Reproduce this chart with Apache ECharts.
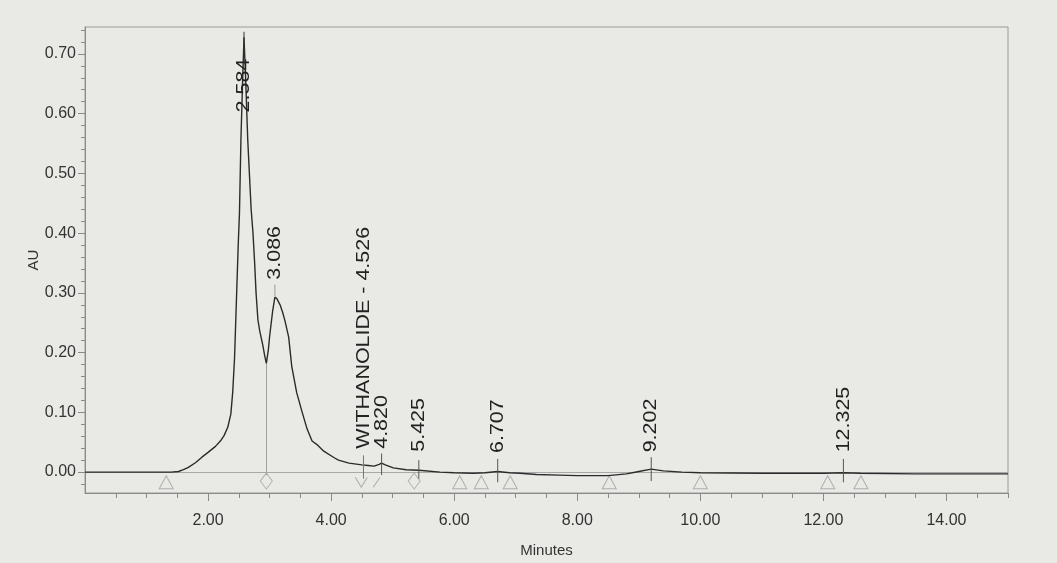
<!DOCTYPE html>
<html><head><meta charset="utf-8">
<script src="https://cdn.jsdelivr.net/npm/echarts@6/dist/echarts.min.js"></script>
<style>html,body{margin:0;padding:0;background:#e9e9e6;}#c{width:1057px;height:563px;}</style>
</head><body><div id="c"></div>
<script>
// ---- data ----
const times = [0.00,0.50,1.00,1.40,1.52,1.60,1.68,1.80,1.90,2.00,2.12,2.20,2.26,2.32,2.37,2.40,2.43,2.45,2.49,2.51,2.534,2.56,2.584,2.61,2.645,2.70,2.73,2.755,2.78,2.81,2.84,2.89,2.92,2.947,2.98,3.00,3.05,3.086,3.12,3.17,3.21,3.25,3.31,3.36,3.44,3.53,3.61,3.69,3.77,3.80,3.88,4.05,4.12,4.29,4.50,4.60,4.70,4.78,4.82,4.88,5.01,5.22,5.425,5.77,6.00,6.31,6.50,6.707,6.90,7.07,7.34,7.70,8.00,8.50,8.80,9.00,9.202,9.40,9.70,10.00,11.00,12.00,12.325,12.60,13.50,15.00];
const absorbance = [0.000,0.000,0.000,0.000,0.001,0.004,0.008,0.016,0.025,0.033,0.043,0.052,0.061,0.075,0.097,0.133,0.190,0.253,0.380,0.433,0.556,0.650,0.728,0.660,0.556,0.440,0.400,0.354,0.300,0.255,0.236,0.212,0.195,0.182,0.205,0.227,0.270,0.293,0.290,0.280,0.268,0.253,0.226,0.177,0.133,0.100,0.072,0.052,0.046,0.044,0.035,0.024,0.020,0.015,0.012,0.011,0.010,0.013,0.015,0.012,0.007,0.004,0.003,0.000,-0.001,-0.002,-0.001,0.001,-0.001,-0.002,-0.004,-0.005,-0.006,-0.006,-0.003,0.001,0.005,0.002,0.000,-0.001,-0.002,-0.002,-0.001,-0.002,-0.003,-0.003];

const xTickLabels = [2, 4, 6, 8, 10, 12, 14];
const xMinorTicks = [0.5, 1, 1.5, 2.5, 3, 3.5, 4.5, 5, 5.5, 6.5, 7, 7.5, 8.5, 9, 9.5, 10.5, 11, 11.5, 12.5, 13, 13.5, 14.5, 15];
const yTickLabels = [0, 0.1, 0.2, 0.3, 0.4, 0.5, 0.6, 0.7];
const yMinorTicks = [-0.02, 0.02, 0.04, 0.06, 0.08, 0.12, 0.14, 0.16, 0.18, 0.22, 0.24, 0.26, 0.28, 0.32, 0.34, 0.36, 0.38, 0.42, 0.44, 0.46, 0.48, 0.52, 0.54, 0.56, 0.58, 0.62, 0.64, 0.66, 0.68, 0.72, 0.74];

const peakTimes = [2.584, 3.086, 4.526, 4.820, 5.425, 6.707, 9.202, 12.325];
const peakNames = ['2.584', '3.086', 'WITHANOLIDE - 4.526', '4.820', '5.425', '6.707', '9.202', '12.325'];
const peakLabelBase = [0.602, 0.322, 0.039, 0.039, 0.034, 0.032, 0.033, 0.033];
const peakTickTop = [0.737, 0.314, 0.028, 0.031, 0.020, 0.022, 0.025, 0.022];
const peakTickBottom = [0.700, 0.295, -0.011, -0.005, -0.011, -0.017, -0.015, -0.017];

const triangleTimes = [1.32, 6.09, 6.44, 6.91, 8.52, 10.00, 12.07, 12.61];
const diamondTimes = [2.947, 5.35];
const vMarkTimes = [4.49];
const slashMarkTimes = [4.74];
const markerLevel = -0.017;
const valleyTime = 2.947, valleyTop = 0.182, valleyBottom = -0.005;

// ---- chart ----
const FONT = '"Liberation Sans", Arial, Helvetica, sans-serif';
const chart = echarts.init(document.getElementById('c'), null, {renderer: 'canvas'});
const tickColors = ['#333', '#999', '#777', '#555', '#555', '#555', '#555', '#555'];

const peakData = peakTimes.map((t, i) => [t, peakTickTop[i], peakTickBottom[i], peakLabelBase[i]]);
const markerStyle = {color: 'rgba(0,0,0,0)', borderColor: '#a0a0a0', borderWidth: 1};

chart.setOption({
  animation: false,
  backgroundColor: '#e9e9e6',
  grid: {left: 85, right: 49, top: 27, bottom: 70, show: true, borderColor: '#9a9a9a', borderWidth: 1, backgroundColor: 'transparent'},
  xAxis: [{
    type: 'value', min: 0, max: 15, position: 'bottom',
    name: 'Minutes', nameLocation: 'middle', nameGap: 50,
    nameTextStyle: {fontFamily: FONT, fontSize: 15, color: '#333'},
    axisLine: {onZero: false, lineStyle: {color: '#8a8a8a', width: 1}},
    axisTick: {show: true, customValues: xTickLabels, length: 8, lineStyle: {color: '#8a8a8a'}},
    axisLabel: {customValues: xTickLabels, formatter: v => v.toFixed(2), fontFamily: FONT, fontSize: 16, color: '#333', margin: 20},
    splitLine: {show: false}
  }, {
    type: 'value', min: 0, max: 15, position: 'bottom',
    axisLine: {show: false, onZero: false},
    axisTick: {show: true, customValues: xMinorTicks, length: 5, lineStyle: {color: '#8a8a8a'}},
    axisLabel: {show: false},
    splitLine: {show: false}
  }],
  yAxis: [{
    type: 'value', min: -0.035, max: 0.745, position: 'left',
    name: 'AU', nameLocation: 'middle', nameGap: 44, nameRotate: 90, nameMoveOverlap: false,
    nameTextStyle: {fontFamily: FONT, fontSize: 15, color: '#333'},
    axisLine: {show: true, onZero: false, lineStyle: {color: '#8a8a8a', width: 1}},
    axisTick: {show: true, customValues: yTickLabels, length: 7, lineStyle: {color: '#8a8a8a'}},
    axisLabel: {customValues: yTickLabels, formatter: v => v.toFixed(2), fontFamily: FONT, fontSize: 16, color: '#333', margin: 9},
    splitLine: {show: false}
  }, {
    type: 'value', min: -0.035, max: 0.745, position: 'left',
    axisLine: {show: false, onZero: false},
    axisTick: {show: true, customValues: yMinorTicks, length: 4, lineStyle: {color: '#8a8a8a'}},
    axisLabel: {show: false},
    splitLine: {show: false}
  }],
  series: [{
    type: 'line', xAxisIndex: 0, yAxisIndex: 0,
    data: times.map((t, i) => [t, absorbance[i]]),
    showSymbol: false, symbol: 'none', smooth: false, z: 5,
    lineStyle: {color: '#2b2b2b', width: 1.4},
    markLine: {
      silent: true, symbol: ['none', 'none'], label: {show: false},
      data: [
        [{coord: [0, 0], lineStyle: {color: '#a8a8a8', width: 1, type: 'solid'}}, {coord: [15, 0]}],
        [{coord: [valleyTime, valleyTop], lineStyle: {color: '#a0a0a0', width: 1, type: 'solid'}}, {coord: [valleyTime, valleyBottom]}]
      ]
    }
  }, {
    type: 'scatter', xAxisIndex: 0, yAxisIndex: 0, z: 4,
    data: triangleTimes.map(t => [t, markerLevel]),
    symbol: 'triangle', symbolSize: [14, 13], itemStyle: markerStyle, silent: true
  }, {
    type: 'scatter', xAxisIndex: 0, yAxisIndex: 0, z: 4,
    data: diamondTimes.map(t => [t, markerLevel + 0.002]),
    symbol: 'diamond', symbolSize: [12, 16], itemStyle: markerStyle, silent: true
  }, {
    type: 'scatter', xAxisIndex: 0, yAxisIndex: 0, z: 4,
    data: vMarkTimes.map(t => [t, markerLevel]),
    symbol: 'path://M0,0L5,8L10,0', symbolSize: [12, 10], itemStyle: markerStyle, silent: true
  }, {
    type: 'scatter', xAxisIndex: 0, yAxisIndex: 0, z: 4,
    data: slashMarkTimes.map(t => [t, markerLevel]),
    symbol: 'path://M0,10L7,0', symbolSize: [7, 10], itemStyle: markerStyle, silent: true
  }, {
    type: 'custom', xAxisIndex: 0, yAxisIndex: 0, z: 6, silent: true,
    data: peakData,
    renderItem: function (params, api) {
      const i = params.dataIndex;
      const t = api.value(0);
      const p1 = api.coord([t, api.value(1)]);
      const p2 = api.coord([t, api.value(2)]);
      const p3 = api.coord([t, api.value(3)]);
      return {
        type: 'group',
        children: [
          {type: 'line', shape: {x1: p1[0], y1: p1[1], x2: p2[0], y2: p2[1]}, style: {stroke: tickColors[i], lineWidth: 1}},
          {type: 'text', x: p3[0], y: p3[1], rotation: Math.PI / 2, scaleX: 1.13, scaleY: 1,
           style: {text: peakNames[i], align: 'left', verticalAlign: 'middle', fill: '#222', font: '19px ' + FONT}}
        ]
      };
    }
  }]
});
</script>
</body></html>
